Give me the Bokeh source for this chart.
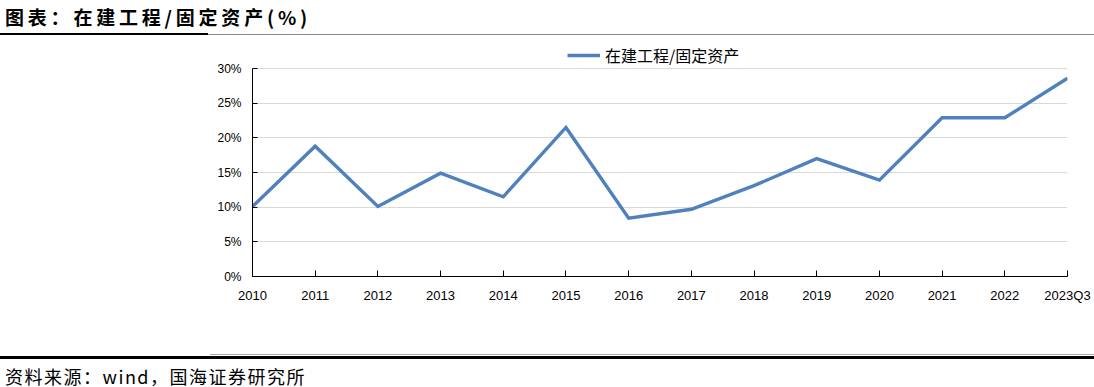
from bokeh.plotting import figure
from bokeh.models import Range1d, FixedTicker, Legend, LegendItem, Div
from bokeh.layouts import column
from bokeh.embed import file_html
from bokeh.resources import INLINE

categories = ["2010", "2011", "2012", "2013", "2014", "2015", "2016",
              "2017", "2018", "2019", "2020", "2021", "2022", "2023Q3"]
values = [10.1, 18.8, 10.1, 14.9, 11.5, 21.5, 8.4,
          9.7, 13.1, 17.0, 13.9, 22.9, 22.9, 28.6]
y_ticks = [0, 5, 10, 15, 20, 25, 30]
y_labels = ["0%", "5%", "10%", "15%", "20%", "25%", "30%"]
series_name = "在建工程/固定资产"
title_text = "图表：在建工程/固定资产(%)"
source_text = "资料来源：wind，国海证券研究所"

W = 1094
xs = list(range(len(categories)))

title_div = Div(
    text=(
        '<div style="position:relative;height:36px;width:1094px;">'
        '<div style="position:absolute;left:5px;top:5px;font-family:\'Noto Sans CJK SC\';font-weight:bold;'
        f'font-size:19px;letter-spacing:3.8px;line-height:24px;color:#000;white-space:nowrap;">{title_text}</div>'
        '<div style="position:absolute;left:0;top:33px;width:208px;height:2px;background:#000"></div>'
        '<div style="position:absolute;left:208px;top:34px;width:886px;height:1px;background:#888"></div>'
        '</div>'
    ),
    width=W, height=36, margin=0,
)

# frame: top at page y 44, 30% line at 68, 0% at 276
p = figure(width=W, height=316, output_backend="svg", toolbar_location=None,
           x_range=Range1d(0, len(categories) - 1), y_range=Range1d(0, 30 + 24 / (208 / 30)),
           min_border_left=252, min_border_right=27, min_border_top=8, min_border_bottom=76)
p.outline_line_color = None
p.background_fill_color = "white"
p.border_fill_color = "white"

r = p.line(xs, values, line_color="#4F81BD", line_width=3.4, line_join="miter")

p.xgrid.visible = False
p.ygrid.grid_line_color = "#d9d9d9"
p.ygrid.grid_line_width = 1

p.xaxis.ticker = FixedTicker(ticks=xs)
p.xaxis.major_label_overrides = {i: c for i, c in enumerate(categories)}
p.xaxis.minor_tick_line_color = None
p.xaxis.major_tick_in = 6
p.xaxis.major_tick_out = 0
p.xaxis.axis_line_color = "black"
p.xaxis.major_tick_line_color = "black"
p.xaxis.major_label_text_font = "Liberation Sans"
p.xaxis.major_label_text_font_size = "13px"
p.xaxis.major_label_text_color = "black"
p.xaxis.major_label_standoff = 11

p.yaxis.ticker = FixedTicker(ticks=y_ticks)
p.yaxis.bounds = (0, 30)
p.yaxis.major_label_overrides = {t: l for t, l in zip(y_ticks, y_labels)}
p.yaxis.minor_tick_line_color = None
p.yaxis.major_tick_in = 5
p.yaxis.major_tick_out = 0
p.yaxis.axis_line_color = "black"
p.yaxis.major_tick_line_color = "black"
p.yaxis.major_label_text_font = "Liberation Sans"
p.yaxis.major_label_text_font_size = "12px"
p.yaxis.major_label_text_color = "black"
p.yaxis.major_label_standoff = 11

legend = Legend(items=[LegendItem(label=series_name, renderers=[r])],
                location=(315, 209), orientation="horizontal",
                border_line_color=None, background_fill_alpha=0,
                padding=0, margin=0, spacing=0,
                glyph_width=33, glyph_height=16, label_height=16, label_standoff=5,
                label_text_font="Noto Sans CJK SC", label_text_font_size="16px",
                label_text_color="black")
p.add_layout(legend)

source_div = Div(
    text=(
        '<div style="position:relative;height:35px;width:1094px;">'
        '<div style="position:absolute;left:210px;top:2px;width:884px;height:1px;background:#aaa"></div>'
        '<div style="position:absolute;left:0;top:4px;width:1094px;height:3px;background:#000"></div>'
        '<div style="position:absolute;left:5px;top:14px;font-family:\'Noto Sans CJK SC\';font-size:18px;'
        f'letter-spacing:1.5px;line-height:21px;color:#000;white-space:nowrap;">{source_text}</div>'
        '</div>'
    ),
    width=W, height=35, margin=0,
)

layout = column(title_div, p, source_div, spacing=0)
open("out.html", "w").write(file_html(layout, INLINE))
